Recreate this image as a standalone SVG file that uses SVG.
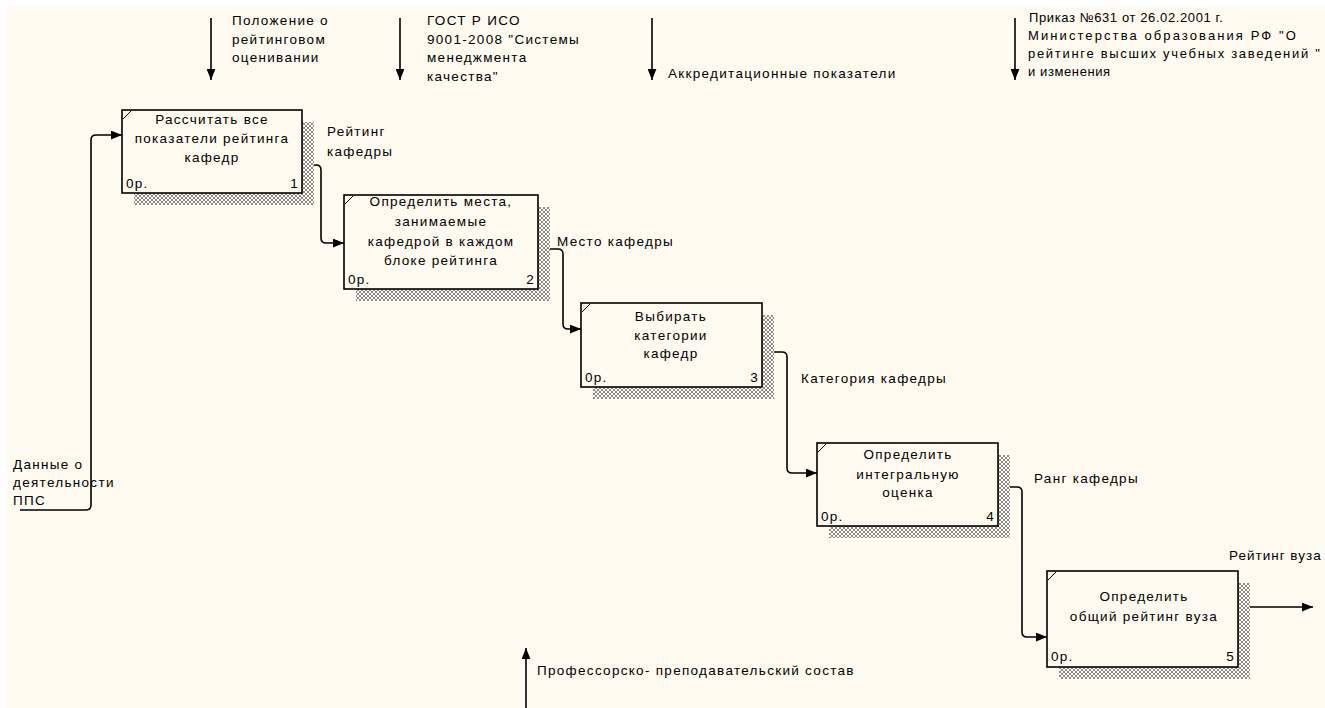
<svg xmlns="http://www.w3.org/2000/svg" width="1325" height="708" viewBox="0 0 1325 708">
  <style>
    text { font-family: "Liberation Sans", Arial, sans-serif; font-size: 13.5px; letter-spacing: 1.3px; fill: #000; }
    .mid { text-anchor: middle; }
    .end { text-anchor: end; }
    .narrow { font-size: 13px; letter-spacing: 0.2px; }
    .box { fill: #fffbf0; stroke: #000; stroke-width: 1.6; }
    .shadow { fill: url(#hatch); }
    .tick { fill: none; stroke: #000; stroke-width: 1; }
    .arrow { fill: none; stroke: #000; stroke-width: 1.6; marker-end: url(#ah); }
  </style>
  <defs>
    <!-- cross-hatched drop shadow of the activity boxes -->
    <pattern id="hatch" width="4" height="4" patternUnits="userSpaceOnUse">
      <rect width="4" height="4" fill="#fffbf0"/>
      <path d="M0,0h1v1h-1z M1,1h1v1h-1z M2,2h1v1h-1z M3,3h1v1h-1z M3,0h1v1h-1z M2,1h1v1h-1z M1,2h1v1h-1z M0,3h1v1h-1z" fill="#8c8c8c" shape-rendering="crispEdges"/>
    </pattern>
    <marker id="ah" viewBox="0 0 10 8" refX="10" refY="4" markerWidth="11" markerHeight="9" orient="auto" markerUnits="userSpaceOnUse">
      <path d="M0,0 L10,4 L0,8 z" fill="#000"/>
    </marker>
  </defs>

  <!-- canvas -->
  <rect width="1325" height="708" fill="#ffffff"/>
  <rect x="7" y="7" width="1318" height="701" fill="#fffbf0"/>

  <!-- connectors -->
  <g id="connectors">
    <!-- controls from above -->
    <path class="arrow" d="M211,18 V80"/>
    <path class="arrow" d="M400,18 V80"/>
    <path class="arrow" d="M652,18 V80"/>
    <path class="arrow" d="M1015,18 V80"/>
    <!-- mechanism from below -->
    <path class="arrow" d="M526,708 V648"/>
    <!-- input to activity 1 -->
    <path class="arrow" d="M20,510 H86 Q91,510 91,505 V140 Q91,135 96,135 H122"/>
    <!-- 1 -> 2 -->
    <path class="arrow" d="M302,165 H316 Q321,165 321,170 V238 Q321,243 326,243 H344"/>
    <!-- 2 -> 3 -->
    <path class="arrow" d="M538,249 H558 Q563,249 563,254 V324 Q563,329 568,329 H581"/>
    <!-- 3 -> 4 -->
    <path class="arrow" d="M762,352 H782 Q787,352 787,357 V468 Q787,473 792,473 H817"/>
    <!-- 4 -> 5 -->
    <path class="arrow" d="M998,487 H1017 Q1022,487 1022,492 V632 Q1022,637 1027,637 H1047"/>
    <!-- output of activity 5 -->
    <path class="arrow" d="M1238,607 H1313"/>

    <!-- connector labels -->
    <text x="232" y="25">Положение о</text>
    <text x="232" y="44">рейтинговом</text>
    <text x="232" y="62">оценивании</text>

    <text x="427" y="25">ГОСТ Р ИСО</text>
    <text x="427" y="44">9001-2008 "Системы</text>
    <text x="427" y="62">менеджмента</text>
    <text x="427" y="81">качества"</text>

    <text x="668" y="78">Аккредитационные показатели</text>

    <text class="narrow" x="1029" y="22" style="letter-spacing:0.6px">Приказ №631 от 26.02.2001 г.</text>
    <text class="narrow" x="1028" y="40" textLength="268">Министерства образования РФ "О</text>
    <text class="narrow" x="1028" y="58" textLength="292">рейтинге высших учебных заведений "</text>
    <text class="narrow" x="1028" y="76" style="letter-spacing:0.6px">и изменения</text>

    <text x="13" y="469">Данные о</text>
    <text x="13" y="487">деятельности</text>
    <text x="13" y="505">ППС</text>

    <text x="327" y="136">Рейтинг</text>
    <text x="327" y="156">кафедры</text>
    <text x="557" y="246">Место кафедры</text>
    <text x="801" y="383">Категория кафедры</text>
    <text x="1034" y="483">Ранг кафедры</text>
    <text x="1229" y="560" style="letter-spacing:1px">Рейтинг вуза</text>

    <text x="537" y="675">Профессорско- преподавательский состав</text>
  </g>

  <!-- activity 1 -->
  <g id="node1">
    <rect class="shadow" x="134" y="122" width="180" height="83"/>
    <rect class="box" x="122" y="110" width="180" height="83"/>
    <path class="tick" d="M123,119 L131,111"/>
    <text class="mid" x="212" y="124">Рассчитать все</text>
    <text class="mid" x="212" y="143">показатели рейтинга</text>
    <text class="mid" x="212" y="162">кафедр</text>
    <text x="126" y="188">0р.</text>
    <text class="end" x="299" y="188">1</text>
  </g>

  <!-- activity 2 -->
  <g id="node2">
    <rect class="shadow" x="356" y="207" width="194" height="94"/>
    <rect class="box" x="344" y="195" width="194" height="94"/>
    <path class="tick" d="M345,204 L353,196"/>
    <text class="mid" x="441" y="206">Определить места,</text>
    <text class="mid" x="441" y="226">занимаемые</text>
    <text class="mid" x="441" y="246">кафедрой в каждом</text>
    <text class="mid" x="441" y="265">блоке рейтинга</text>
    <text x="348" y="284">0р.</text>
    <text class="end" x="535" y="284">2</text>
  </g>

  <!-- activity 3 -->
  <g id="node3">
    <rect class="shadow" x="593" y="315" width="181" height="84"/>
    <rect class="box" x="581" y="303" width="181" height="84"/>
    <path class="tick" d="M582,312 L590,304"/>
    <text class="mid" x="671" y="321">Выбирать</text>
    <text class="mid" x="671" y="340">категории</text>
    <text class="mid" x="671" y="358">кафедр</text>
    <text x="585" y="382">0р.</text>
    <text class="end" x="759" y="382">3</text>
  </g>

  <!-- activity 4 -->
  <g id="node4">
    <rect class="shadow" x="829" y="455" width="181" height="83"/>
    <rect class="box" x="817" y="443" width="181" height="83"/>
    <path class="tick" d="M818,452 L826,444"/>
    <text class="mid" x="908" y="459">Определить</text>
    <text class="mid" x="908" y="479">интегральную</text>
    <text class="mid" x="908" y="497">оценка</text>
    <text x="821" y="521">0р.</text>
    <text class="end" x="995" y="521">4</text>
  </g>

  <!-- activity 5 -->
  <g id="node5">
    <rect class="shadow" x="1059" y="583" width="191" height="96"/>
    <rect class="box" x="1047" y="571" width="191" height="96"/>
    <path class="tick" d="M1048,580 L1056,572"/>
    <text class="mid" x="1144" y="601">Определить</text>
    <text class="mid" x="1144" y="621">общий рейтинг вуза</text>
    <text x="1051" y="661">0р.</text>
    <text class="end" x="1235" y="661">5</text>
  </g>
</svg>
